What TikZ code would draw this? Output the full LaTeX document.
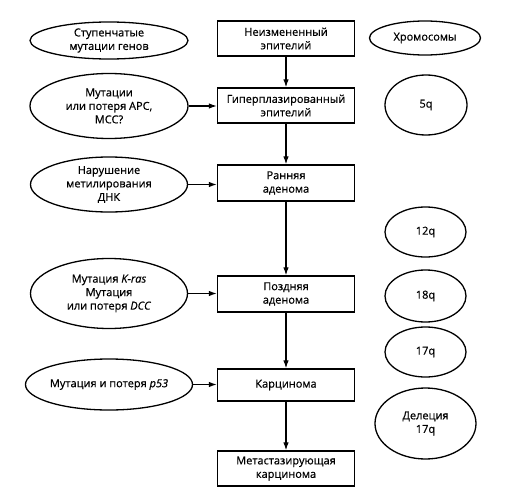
\documentclass[tikz,border=0pt]{standalone}
\usepackage{fontspec}
\setmainfont{Open Sans}[BoldFont={Open Sans}, BoldFeatures={FakeBold=0.6}, BoldItalicFont={Open Sans Italic}, BoldItalicFeatures={FakeBold=0.6}]
\usetikzlibrary{shapes.geometric,arrows.meta}
\begin{document}
\begin{tikzpicture}[x=1pt,y=-1pt,
  every node/.style={font=\fontsize{11}{13.5}\selectfont\bfseries, align=center, inner sep=0pt},
  stage/.style={draw, line width=1.3pt, minimum width=137pt},
  oval/.style={draw, ellipse, line width=1.3pt},
  arr/.style={line width=1.2pt, -{Latex[length=8pt,width=5.5pt]}}]
\useasboundingbox (0,0) rectangle (527,495);
% stages
\node[stage, minimum height=35pt] (b1) at (286,38.5) {Неизмененный\\эпителий};
\node[stage, minimum height=35pt] (b2) at (286,105.5) {Гиперплазированный\\эпителий};
\node[stage, minimum height=36pt] (b3) at (286,183) {Ранняя\\аденома};
\node[stage, minimum height=36pt] (b4) at (286,294) {Поздняя\\аденома};
\node[stage, minimum height=32pt] (b5) at (286,385) {Карцинома};
\node[stage, minimum height=35pt] (b6) at (286,468.5) {Метастазирующая\\карцинома};
% left ovals
\node[oval, minimum width=158pt, minimum height=37pt] (e1) at (109,40.5) {Ступенчатые\\мутации генов};
\node[oval, minimum width=158pt, minimum height=65pt] (e2) at (109,106) {Мутации\\или потеря APC,\\MCC?};
\node[oval, minimum width=157pt, minimum height=55pt] (e3) at (109,184.5) {Нарушение\\метилирования\\ДНК};
\node[oval, minimum width=157pt, minimum height=70pt] (e4) at (109,293.5) {Мутация \textit{K-ras}\\Мутация\\или потеря \textit{DCC}};
\node[oval, minimum width=157pt, minimum height=51pt] (e5) at (109,384.5) {Мутация и потеря \textit{p53}};
% right ovals
\node[oval, minimum width=111pt, minimum height=34pt] (r1) at (425,38) {Хромосомы};
\node[oval, minimum width=82pt, minimum height=60pt] (r2) at (426,105) {5q};
\node[oval, minimum width=81pt, minimum height=50pt] (r3) at (425.5,232) {12q};
\node[oval, minimum width=81pt, minimum height=52pt] (r4) at (425.5,296) {18q};
\node[oval, minimum width=81pt, minimum height=50pt] (r5) at (425.5,352) {17q};
\node[oval, minimum width=101pt, minimum height=71pt] (r6) at (425.5,423.5) {Делеция\\17q};
% vertical arrows
\draw[arr] (b1) -- (b2);
\draw[arr] (b2) -- (b3);
\draw[arr] (b3) -- (b4);
\draw[arr] (b4) -- (b5);
\draw[arr] (b5) -- (b6);
% horizontal arrows
\draw[arr] (e2.east) -- (e2.east -| b2.west);
\draw[arr] (e3.east) -- (e3.east -| b3.west);
\draw[arr] (e4.east) -- (e4.east -| b4.west);
\draw[arr] (e5.east) -- (e5.east -| b5.west);
\end{tikzpicture}
\end{document}
